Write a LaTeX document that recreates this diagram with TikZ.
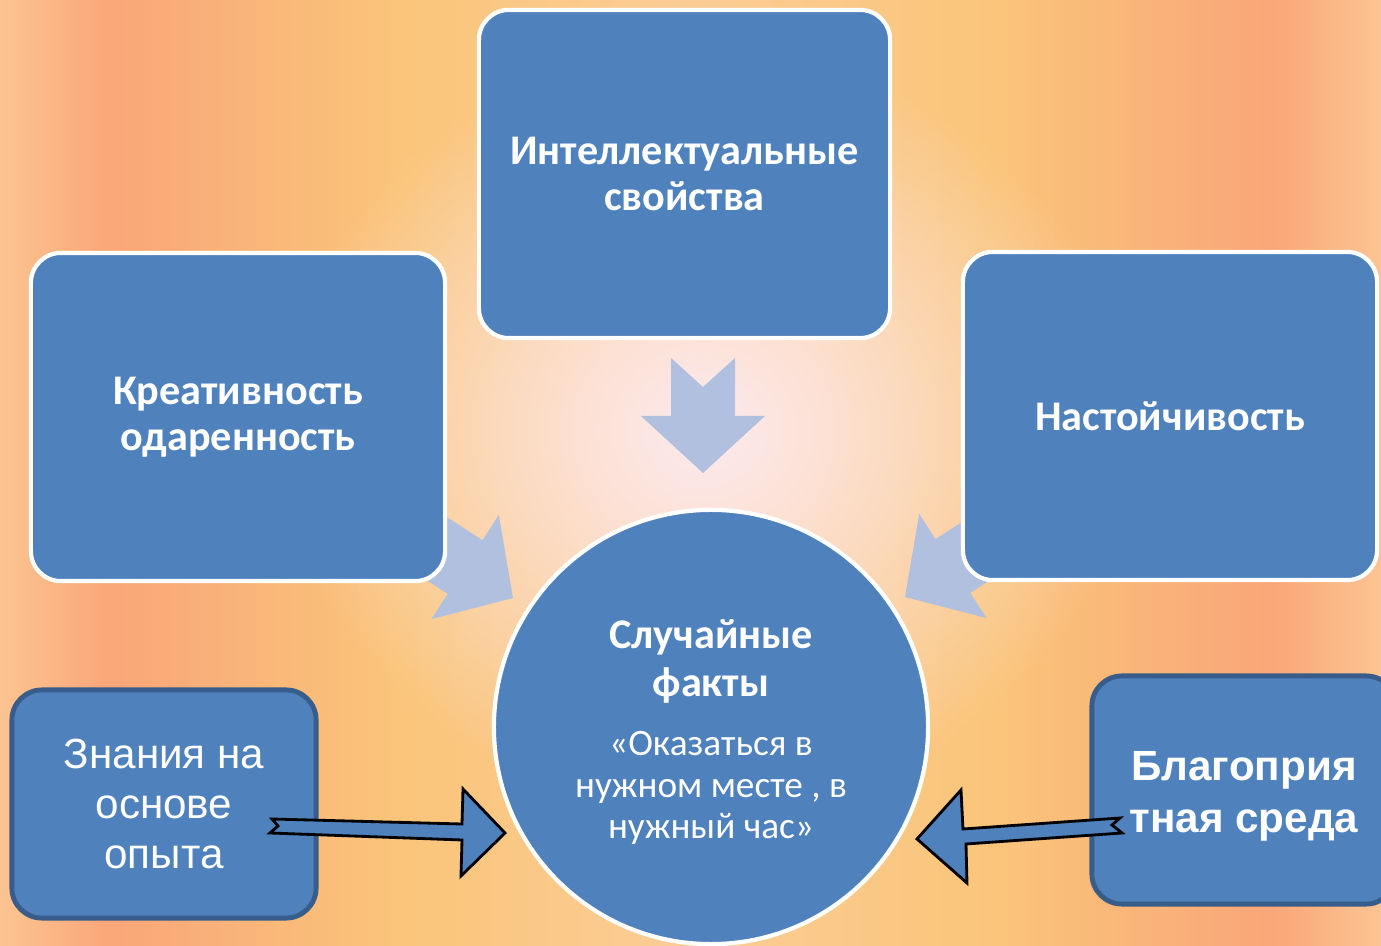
\documentclass[tikz,border=0pt]{standalone}
\usepackage{fontspec}
\setmainfont{Carlito}
\newfontfamily\arialfont{Liberation Sans}
\usetikzlibrary{positioning,fadings}

\definecolor{boxblue}{RGB}{79,129,189}
\definecolor{boxrim}{RGB}{56,93,138}
\definecolor{paleblue}{RGB}{176,192,222}
\definecolor{glowcore}{RGB}{253,234,240}
\definecolor{bgpeach}{RGB}{252,196,146}
\definecolor{bgsalmon}{RGB}{249,166,120}
\definecolor{bgyellow}{RGB}{250,197,122}
\definecolor{bgmid}{RGB}{251,205,150}

\pgfdeclarehorizontalshading{bgband}{100bp}{color(0bp)=(bgpeach); color(25bp)=(bgpeach);
  color(29bp)=(bgsalmon); color(39.5bp)=(bgyellow); color(50bp)=(bgmid); color(61bp)=(bgyellow);
  color(71bp)=(bgsalmon); color(75bp)=(bgpeach); color(100bp)=(bgpeach)}
\tikzfading[name=glowfade, inner color=transparent!0, outer color=transparent!100]

\tikzset{
  softbox/.style={rectangle, rounded corners=0.3cm, fill=boxblue, draw=white, line width=1.2pt,
    text=white, align=center, inner sep=0pt, font=\bfseries\fontsize{12}{13}\selectfont},
  rimbox/.style={rectangle, rounded corners=0.3cm, fill=boxblue, draw=boxrim, line width=1.4pt,
    text=white, align=center, inner sep=0pt, minimum width=3.04cm, minimum height=2.28cm},
  blockarrow/.style={fill=boxblue, draw=black, line width=0.8pt, line join=miter},
  pics/fatarrow/.style={code={
    \fill[paleblue] (0,0) -- (-57,62) -- (-57,32) -- (-#1,32) -- (-#1+29,0)
      -- (-#1,-32) -- (-57,-32) -- (-57,-62) -- cycle;
  }}
}

\begin{document}
\begin{tikzpicture}[x=0.01cm,y=-0.01cm]
	\useasboundingbox (0,0) rectangle (1381,946);
	\clip (0,0) rectangle (1381,946);
	\fill[shading=bgband] (0,0) rectangle (1381,946);
	\fill[glowcore, path fading=glowfade] (705,430) ellipse [x radius=430, y radius=380];
	
	\pic[rotate=-32.9] at (513,598) {fatarrow=150};
	\pic[rotate=-147.1] at (905,597) {fatarrow=150};
	\pic[rotate=-90] at (703,473) {fatarrow=115};
	
	\node[softbox, minimum width=4.11cm, minimum height=3.28cm] (intel) at (684.5,174) {Интеллектуальные\\свойства};
	\node[softbox, minimum width=4.14cm, minimum height=3.28cm] (creat) at (238,417) {Креативность\\одаренность};
	\node[softbox, minimum width=4.14cm, minimum height=3.28cm] (persist) at (1170,416) {Настойчивость};
	\node[circle, fill=boxblue, draw=white, line width=1.2pt, minimum size=4.34cm, inner sep=0pt,
		text=white, text width=3.2cm, align=flush center] (chance) at (711,727)
		{{\fontsize{12}{13.6}\selectfont\bfseries Случайные\\факты\par}\vspace{5pt}%
		{\fontsize{10.6}{11.8}\selectfont «Оказаться в\\нужном месте , в\\нужный час»\par}\vspace{-0.11cm}};
	
	\node[rimbox, font=\arialfont\fontsize{12}{14.2}\selectfont] (know) at (164,804) {Знания на\\основе\\опыта};
	\node[rimbox, font=\arialfont\bfseries\fontsize{12}{14.7}\selectfont] (env) at (1244,790) {\rule{0pt}{12pt}Благоприя\\тная среда};
	
	\draw[blockarrow] (272,819) -- (278,826) -- (270,833) -- (462,840) -- (461,876) -- (505,833)
		-- (463,789) -- (462,824) -- cycle;
	\draw[blockarrow] (1120,818) -- (963,829) -- (961,790) -- (917,839) -- (967,883) -- (966,844)
		-- (1122,833) -- (1112,825) -- cycle;
\end{tikzpicture}
\end{document}
